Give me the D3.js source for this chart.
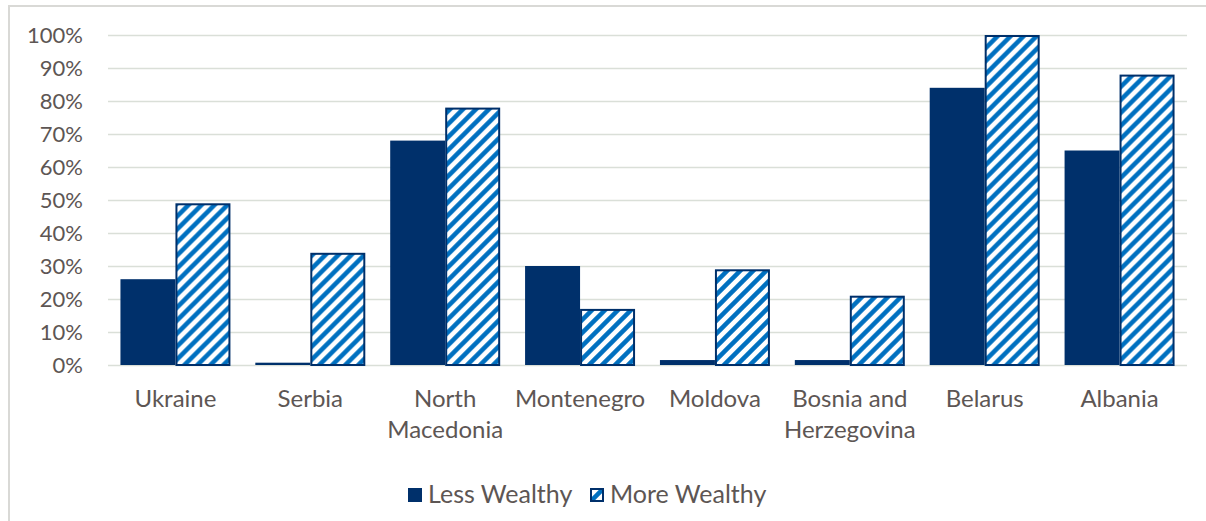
<!DOCTYPE html>
<html>
<head>
<meta charset="utf-8">
<script src="https://cdn.jsdelivr.net/npm/d3@7"></script>
<style>
  html, body { margin: 0; padding: 0; background: #ffffff; }
  svg { display: block; }
  text { font-family: Lato, "Open Sans", sans-serif; fill: #5d5654; }
</style>
</head>
<body>
<svg id="chart" width="1206" height="521"></svg>
<script>
const categories = ["Ukraine", "Serbia", "North\nMacedonia", "Montenegro", "Moldova", "Bosnia and\nHerzegovina", "Belarus", "Albania"];
const lessWealthy = [0.26, 0.007, 0.68, 0.30, 0.015, 0.015, 0.84, 0.65];
const moreWealthy = [0.49, 0.34, 0.78, 0.17, 0.29, 0.21, 1.00, 0.88];
const seriesNames = ["Less Wealthy", "More Wealthy"];
const yTicks = [0, 0.1, 0.2, 0.3, 0.4, 0.5, 0.6, 0.7, 0.8, 0.9, 1.0];

const navy = "#00306b";
const stripe = "#0070c0";
const svg = d3.select("#chart");

// outer frame (left and top visible)
svg.append("path")
  .attr("d", "M9,521 L9,6 L1206,6")
  .attr("fill", "none")
  .attr("stroke", "#d9d9d6")
  .attr("stroke-width", 2);

// pattern
const defs = svg.append("defs");
const pat = defs.append("pattern")
  .attr("id", "stripes")
  .attr("patternUnits", "userSpaceOnUse")
  .attr("width", 13).attr("height", 13);
pat.append("rect").attr("width", 13).attr("height", 13).attr("fill", "#ffffff");
pat.append("path")
  .attr("d", "M-2,15 L15,-2 M-4,4 L4,-4 M9,17 L17,9")
  .attr("stroke", stripe)
  .attr("stroke-width", 4.5);

const x0 = 108, x1 = 1187, yTop = 35, yBot = 365;
const x = d3.scaleBand().domain(categories).range([x0, x1]).paddingInner(0).paddingOuter(0);
const y = d3.scaleLinear().domain([0, 1]).range([yBot, yTop]);

// y axis with gridlines
const yAxis = d3.axisLeft(y)
  .tickValues(yTicks)
  .tickFormat(d3.format(".0%"))
  .tickSize(-(x1 - x0))
  .tickPadding(25);
const gy = svg.append("g").attr("transform", `translate(${x0},0)`).call(yAxis);
gy.select(".domain").remove();
gy.selectAll(".tick line").attr("stroke", "#dadfd8").attr("stroke-width", 1.6);
gy.selectAll(".tick text")
  .attr("font-size", 22)
  .attr("fill", "#5d5654")
  .style("font-family", "Lato, 'Open Sans', sans-serif");

// bars
const groupFrac = 110 / 134.9;
const bw = x.bandwidth() * groupFrac / 2;
const sub = d3.scaleBand().domain(seriesNames).range([0, bw * 2]);
const offset = (x.bandwidth() - bw * 2) / 2;

const groups = svg.append("g").selectAll("g")
  .data(categories)
  .join("g")
  .attr("transform", d => `translate(${x(d) + offset},0)`);

groups.append("rect")
  .attr("x", sub("Less Wealthy"))
  .attr("y", (d, i) => y(lessWealthy[i]))
  .attr("width", sub.bandwidth())
  .attr("height", (d, i) => yBot - y(lessWealthy[i]))
  .attr("fill", navy);

groups.append("rect")
  .attr("x", sub("More Wealthy") + 1)
  .attr("y", (d, i) => y(moreWealthy[i]) + 1)
  .attr("width", sub.bandwidth() - 2)
  .attr("height", (d, i) => yBot - y(moreWealthy[i]) - 1)
  .attr("fill", "url(#stripes)")
  .attr("stroke", navy)
  .attr("stroke-width", 2);

// category labels
const labels = svg.append("g").selectAll("text")
  .data(categories)
  .join("text")
  .attr("x", d => x(d) + x.bandwidth() / 2)
  .attr("y", 407)
  .attr("text-anchor", "middle")
  .attr("font-size", 24);
labels.each(function(d) {
  const t = d3.select(this);
  d.split("\n").forEach((line, k) => {
    t.append("tspan")
      .attr("x", x(d) + x.bandwidth() / 2)
      .attr("dy", k === 0 ? 0 : 31)
      .text(line);
  });
});

// legend
const legend = svg.append("g");
const legendPos = [{sx: 408, tx: 428}, {sx: 590, tx: 610}];
seriesNames.forEach((name, i) => {
  const p = legendPos[i];
  if (i === 0) {
    legend.append("rect").attr("x", p.sx).attr("y", 488).attr("width", 14).attr("height", 14).attr("fill", navy);
  } else {
    legend.append("rect").attr("x", p.sx + 1).attr("y", 489).attr("width", 12).attr("height", 12)
      .attr("fill", "url(#stripes)").attr("stroke", navy).attr("stroke-width", 2);
  }
  legend.append("text").attr("x", p.tx).attr("y", 503).attr("font-size", 25).text(name);
});
</script>
</body>
</html>
